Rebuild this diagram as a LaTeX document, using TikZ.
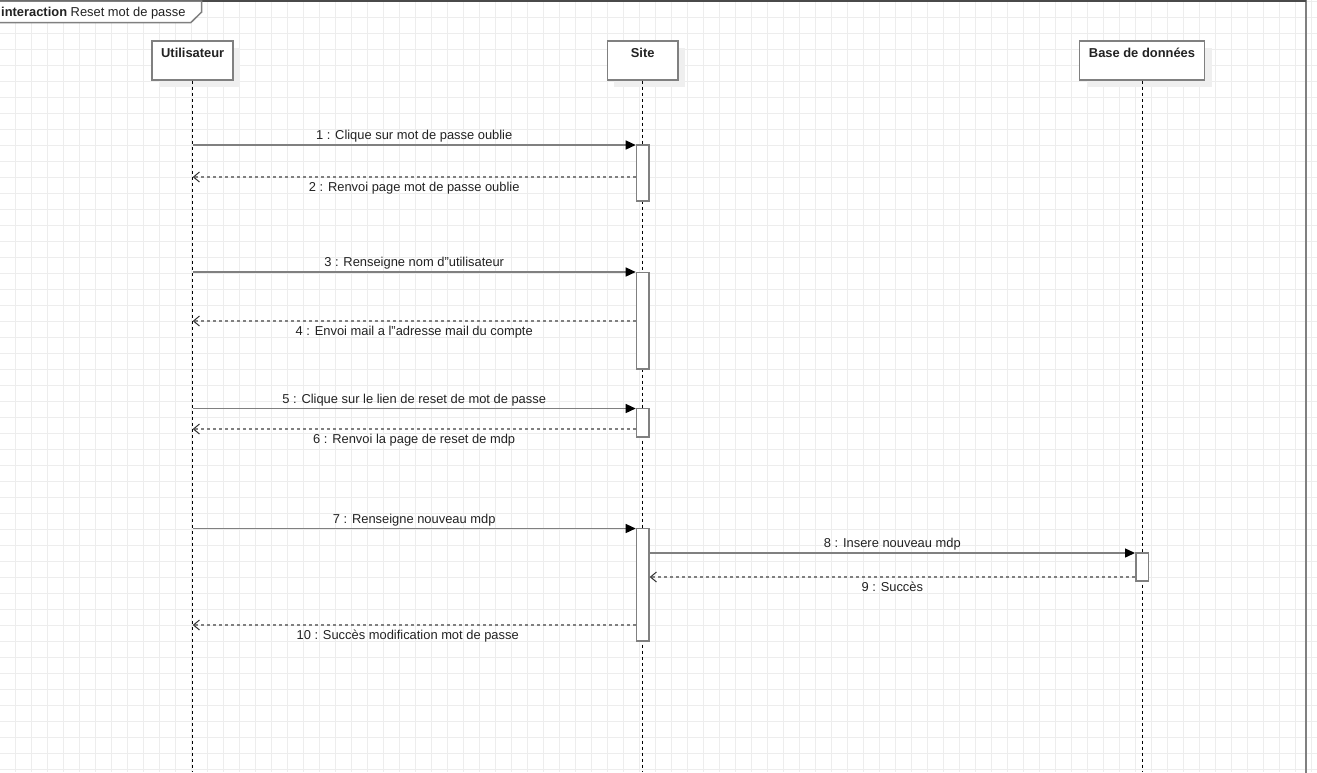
\documentclass[tikz,border=0pt]{standalone}
\usepackage{fontspec}
\setmainfont{Liberation Sans}
\usetikzlibrary{arrows.meta}
\usetikzlibrary{shadows}
\definecolor{trait}{HTML}{808080}
\definecolor{cadre}{HTML}{4A4A4A}
\definecolor{grille}{HTML}{EDEDED}
\definecolor{ombre}{HTML}{EFEFEF}
\definecolor{texte}{HTML}{222222}

\begin{document}
\begin{tikzpicture}[x=1pt,y=-1pt,font=\fontsize{12.9}{15}\selectfont,text=texte]
    \tikzstyle{acteur} = [draw=trait,line width=1.5pt,fill=white,inner ysep=0pt,text height=16.5pt,text depth=22.5pt,font=\fontsize{12.9}{15}\selectfont\bfseries,drop shadow={shadow xshift=7pt,shadow yshift=-7pt,fill=ombre,opacity=1}]
    \tikzstyle{vie} = [draw=black,line width=1pt,dash pattern=on 3pt off 3pt]
    \tikzstyle{barre} = [draw=trait,line width=1.5pt,fill=white,minimum width=12.5pt,inner sep=0pt]
    \tikzstyle{appel} = [draw=trait,line width=1.4pt,-{Triangle[length=10pt,width=9pt,color=black]}]
    \tikzstyle{retour} = [draw=trait,line width=1.4pt,dash pattern=on 3pt off 3pt,-{Straight Barb[length=6pt,width=10pt,line width=1pt,color=black!80]}]
    \tikzstyle{haut} = [midway,anchor=base,yshift=5.5pt]
    \tikzstyle{bas} = [midway,anchor=base,yshift=-14pt]
    \useasboundingbox (0,0) rectangle (1317,772);
    \clip (0,0) rectangle (1317,772);
    % grille de fond
    \foreach \gx in {0,...,82} {\draw[grille] (15.5+16*\gx,0) -- ++(0,772);}
    \foreach \gy in {0,...,48} {\draw[grille] (0,0.7+16*\gy) -- ++(1317,0);}
    % cadre
    \draw[trait,line width=2pt] (-3,1) rectangle (1305.5,800);
    \draw[cadre,line width=2pt] (-3,1) -- (1305.5,1);
    \path[draw=trait,line width=1.5pt,fill=white] (-3,1) -- (201.7,1) -- (201.7,12) -- (190.7,22.7) -- (-3,22.7);
    \node [anchor=base west,inner sep=0pt] (titre) at (1,16) {\textbf{interaction} Reset mot de passe};
    % lignes de vie
    \node [acteur,minimum width=81pt] (u) at (192.7,60.35) {Utilisateur};
    \node [acteur,minimum width=70.5pt] (s) at (642.7,60.35) {Site};
    \node [acteur,minimum width=125pt] (b) at (1142,60.35) {Base de donn\'ees};
    \coordinate (ufin) at (192.7,772);
    \coordinate (sfin) at (642.7,772);
    \coordinate (bfin) at (1142,772);
    \path [vie] (u.south) -- (ufin);
    \path [vie] (s.south) -- (sfin);
    \path [vie] (b.south) -- (bfin);
    % activations
    \node [barre,minimum height=56pt] (s1) at (642.7,173) {};
    \node [barre,minimum height=96.5pt] (s2) at (642.7,320.5) {};
    \node [barre,minimum height=28.5pt] (s3) at (642.7,422.75) {};
    \node [barre,minimum height=112.5pt] (s4) at (642.7,584.75) {};
    \node [barre,minimum height=28pt] (b1) at (1142,567) {};
    % messages
    \coordinate (m1) at (192.7,145);
    \coordinate (m2) at (192.7,177);
    \coordinate (m3) at (192.7,272);
    \coordinate (m4) at (192.7,321);
    \coordinate (m5) at (192.7,408.5);
    \coordinate (m6) at (192.7,429);
    \coordinate (m7) at (192.7,528.5);
    \coordinate (m8) at (192.7,553);
    \coordinate (m9) at (192.7,577);
    \coordinate (m10) at (192.7,625);
    \path [appel] (m1) -- (s1.west |- m1) node [haut] {1 : Clique sur mot de passe oublie};
    \path [retour] (s1.west |- m2) -- (m2) node [bas] {2 : Renvoi page mot de passe oublie};
    \path [appel] (m3) -- (s2.west |- m3) node [haut] {3 : Renseigne nom d"utilisateur};
    \path [retour] (s2.west |- m4) -- (m4) node [bas] {4 : Envoi mail a l"adresse mail du compte};
    \path [appel] (m5) -- (s3.west |- m5) node [haut] {5 : Clique sur le lien de reset de mot de passe};
    \path [retour] (s3.west |- m6) -- (m6) node [bas] {6 : Renvoi la page de reset de mdp};
    \path [appel] (m7) -- (s4.west |- m7) node [haut] {7 : Renseigne nouveau mdp};
    \path [appel] (s4.east |- m8) -- (b1.west |- m8) node [haut] {8 : Insere nouveau mdp};
    \path [retour] (b1.west |- m9) -- (s4.east |- m9) node [bas] {9 : Succès};
    \path [retour] (s4.west |- m10) -- (m10) node [bas,xshift=-6.5pt] {10 : Succès modification mot de passe};
\end{tikzpicture}
\end{document}
